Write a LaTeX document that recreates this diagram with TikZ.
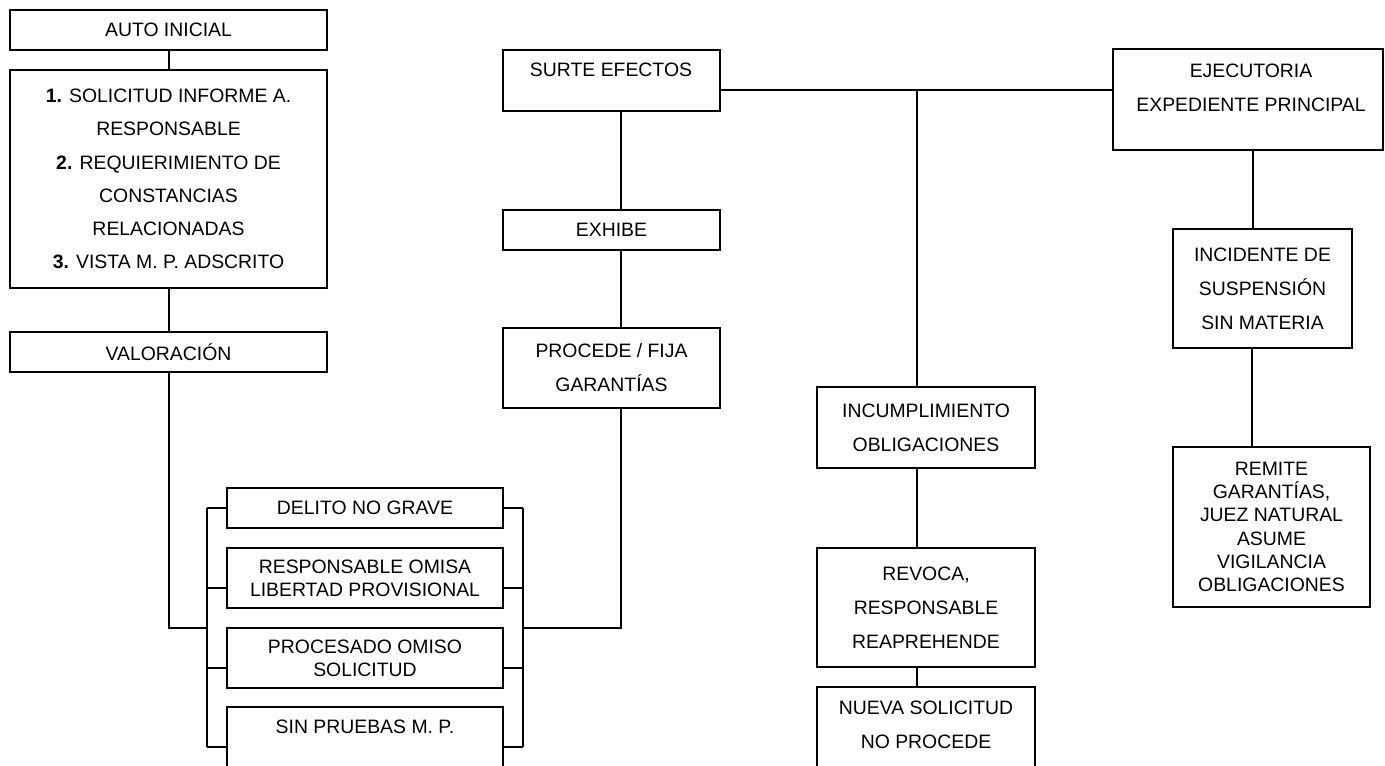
\documentclass[tikz,border=0pt]{standalone}
\usepackage{fontspec}
\setmainfont{Liberation Sans}
\newcommand\dgloose{\fontsize{9.7}{17}\selectfont}
\newcommand\dglist{\fontsize{9.7}{16.6}\selectfont}
\newcommand\dgtight{\fontsize{9.7}{11.6}\selectfont}
\begin{document}
\begin{tikzpicture}[x=0.5pt,y=-0.5pt,
  box/.style={draw, line width=1pt, rectangle, inner sep=0pt, align=center, font=\dgloose},
  tightbox/.style={box, font=\dgtight},
  sz/.style 2 args={minimum width=#1*0.5pt, minimum height=#2*0.5pt},
  txt/.style={inner sep=0pt, align=center, font=\dgloose},
  link/.style={line width=1pt}]
\useasboundingbox (0,0) rectangle (1385,765);
\clip (0,0) rectangle (1385,765);

% left column
\node[box, sz={317}{40}] (auto) at (168.5,30) {AUTO INICIAL};
\node[box, sz={317}{218}, font=\dglist] (list) at (168.5,179)
  {\textbf{1.} SOLICITUD INFORME A.\\RESPONSABLE\\\textbf{2.} REQUIERIMIENTO DE\\CONSTANCIAS\\RELACIONADAS\\\textbf{3.} VISTA M. P. ADSCRITO};
\node[box, sz={317}{40}] (valor) at (168.5,352) {VALORACIÓN};

% bracketed group of grounds
\node[box, sz={276}{40}] (delito) at (365,508) {DELITO NO GRAVE};
\node[tightbox, sz={276}{60}] (resp) at (365,578) {RESPONSABLE OMISA\\LIBERTAD PROVISIONAL};
\node[tightbox, sz={276}{60}] (proc) at (365,658) {PROCESADO OMISO\\SOLICITUD};
\node[box, sz={276}{93}] (sinp) at (365,753.5) {};
\node[txt] (sinpT) at (365,727) {SIN PRUEBAS M. P.};

% middle column
\node[box, sz={217}{61}] (surte) at (611.5,80.5) {};
\node[txt] (surteT) at (611,70) {SURTE EFECTOS};
\node[box, sz={217}{40}] (exhibe) at (611.5,230) {EXHIBE};
\node[box, sz={217}{80}] (procede) at (611.5,368) {PROCEDE / FIJA\\GARANTÍAS};

% breach column
\node[box, sz={218}{81}] (incum) at (926,427.5) {INCUMPLIMIENTO\\OBLIGACIONES};
\node[box, sz={218}{119}] (revoca) at (926,607.5) {REVOCA,\\RESPONSABLE\\REAPREHENDE};
\node[box, sz={218}{113}] (nueva) at (926,743.5) {};
\node[txt] (nuevaT) at (926,725) {NUEVA SOLICITUD\\NO PROCEDE};

% right column
\node[box, sz={270}{101}] (ejec) at (1248,99.5) {};
\node[txt] (ejecT) at (1251,88) {EJECUTORIA\\EXPEDIENTE PRINCIPAL};
\node[box, sz={179}{119}] (incid) at (1262.5,288.5) {INCIDENTE DE\\SUSPENSIÓN\\SIN MATERIA};
\node[tightbox, sz={197}{160}] (remite) at (1271.5,527)
  {REMITE\\GARANTÍAS,\\JUEZ NATURAL\\ASUME\\VIGILANCIA\\OBLIGACIONES};

% junction points
\coordinate (bl) at (207,628);
\coordinate (blTop) at (207,508);
\coordinate (blBot) at (207,747);
\coordinate (br) at (523,628);
\coordinate (brTop) at (523,508);
\coordinate (brBot) at (523,747);
\coordinate (tj) at (917,90);

% left column links
\draw[link] (auto) -- (list);
\draw[link] (list) -- (valor);
\draw[link] (valor.south) |- (bl);

% brackets around the grounds
\draw[link] (blTop) -- (blBot);
\draw[link] (brTop) -- (brBot);
\draw[link] (delito.west) -- (blTop);
\draw[link] (delito.east) -- (brTop);
\draw[link] (resp.west) ++(0,10) -- ++(-20,0);
\draw[link] (resp.east) ++(0,10) -- ++(20,0);
\draw[link] (proc.west) ++(0,10) -- ++(-20,0);
\draw[link] (proc.east) ++(0,10) -- ++(20,0);
\draw[link] (sinp.west |- blBot) -- (blBot);
\draw[link] (sinp.east |- brBot) -- (brBot);

% middle column links
\draw[link] (br) -| ([xshift=4.75pt]procede.south);
\draw[link] ([xshift=4.75pt]surte.south) -- ([xshift=4.75pt]exhibe.north);
\draw[link] ([xshift=4.75pt]exhibe.south) -- ([xshift=4.75pt]procede.north);

% top line and branches
\draw[link] ([yshift=-4.75pt]surte.east) -- ([yshift=4.75pt]ejec.west);
\draw[link] (tj) -- ([xshift=-4.5pt]incum.north);
\draw[link] ([xshift=-4.5pt]incum.south) -- ([xshift=-4.5pt]revoca.north);
\draw[link] ([xshift=-4.5pt]revoca.south) -- ([xshift=-4.5pt]nueva.north);

% right column links
\draw[link] ([xshift=2.5pt]ejec.south) -- ([xshift=-4.75pt]incid.north);
\draw[link] ([xshift=-5.25pt]incid.south) -- ([xshift=-9.75pt]remite.north);
\end{tikzpicture}
\end{document}
